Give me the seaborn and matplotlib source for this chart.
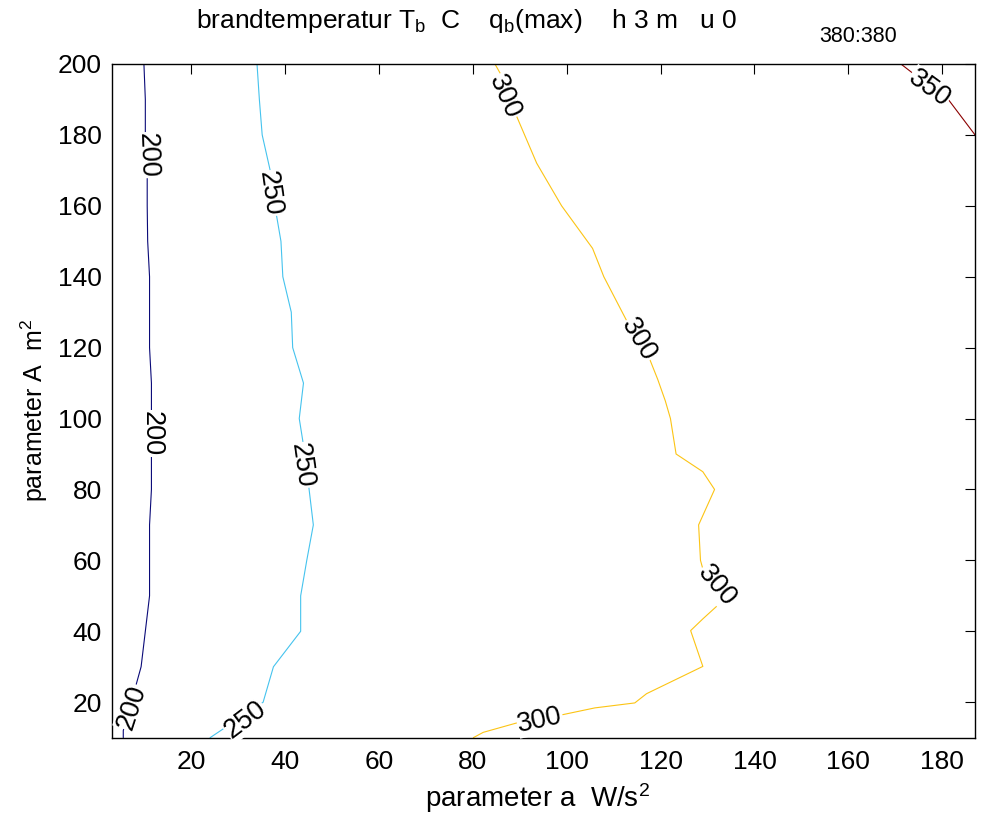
import numpy as np
import pandas as pd
import matplotlib
matplotlib.use("Agg")
import matplotlib.pyplot as plt
import seaborn as sns

# contour lines (parameter a, parameter A)
lvl200_a = [9.9, 10.2, 10.2, 10.6, 10.6, 10.7, 11.1, 11.1, 11.1, 11.5, 11.5,
            11.5, 11.5, 11.1, 11.1, 11.1, 10.2, 9.3, 7.2, 5.5, 5.5]
lvl200_A = [200, 190, 180, 170, 160, 150, 140, 130, 120, 110, 100,
            90, 80, 70, 60, 50, 40, 30, 20, 12, 10]

lvl250_a = [34.0, 34.5, 35.1, 36.8, 37.8, 39.1, 39.5, 41.3, 41.6, 43.9,
            43.0, 44.2, 45.1, 46.0, 44.6, 43.3, 43.3, 37.5, 35.3, 24.0]
lvl250_A = [200, 190, 180, 170, 160, 150, 140, 130, 120, 110,
            100, 90, 80, 70, 60, 50, 40, 30, 20, 10]

lvl300_a = [84.7, 86.4, 89.4, 93.6, 98.9, 105.5, 107.9, 113.0, 117.3, 119.4,
            121.0, 122.1, 123.3, 129.0, 131.5, 128.1, 128.5, 129.0, 132.9, 129.0,
            126.4, 129.0, 117.0, 114.5, 106.0, 98.1, 90.0, 82.2, 80.1]
lvl300_A = [200, 196, 185, 172, 160, 148, 140, 127, 118, 111,
            105, 100, 90, 85, 80, 70, 60, 57.6, 48.2, 43.5,
            40.2, 30.1, 22.4, 19.8, 18.4, 16.2, 14.4, 11.5, 10]

lvl350_a = [171.2, 174.7, 181.3, 187.0]
lvl350_A = [200, 196.4, 190, 180]

levels = [200, 250, 300, 350]
level_colors = {200: "#0a0a78", 250: "#45c3ee", 300: "#fcc414", 350: "#8b0000"}

# inline labels: (level, a, A, rotation)
label_level = [200, 200, 200, 250, 250, 250, 300, 300, 300, 300, 350]
label_a = [10.6, 11.6, 7.4, 36.8, 43.6, 31.5, 86.8, 115.2, 132.0, 94.3, 177.2]
label_A = [174.3, 95.8, 18.5, 163.5, 86.8, 15.1, 190.8, 122.1, 52.9, 14.8, 193.1]
label_rot = [-88, -90, 72, -82, -82, 37, -66, -59, -50, 12, -36]

x_ticks = list(range(20, 181, 20))
y_ticks = list(range(20, 201, 20))

frames = []
for lv, xs, ys in [(200, lvl200_a, lvl200_A), (250, lvl250_a, lvl250_A),
                   (300, lvl300_a, lvl300_A), (350, lvl350_a, lvl350_A)]:
    frames.append(pd.DataFrame({"a": xs, "A": ys, "level": lv}))
df = pd.concat(frames, ignore_index=True)

sns.set_style("white")
plt.rcParams["font.family"] = ["Liberation Sans", "DejaVu Sans"]
plt.rcParams["mathtext.fontset"] = "custom"
plt.rcParams["mathtext.rm"] = "Liberation Sans"
plt.rcParams["text.color"] = "black"

fig = plt.figure(figsize=(9.81, 8.18), dpi=100)
ax = fig.add_axes([0.1137, 0.0982, 0.8802, 0.8236])

sns.lineplot(data=df, x="a", y="A", hue="level", palette=level_colors,
             sort=False, estimator=None, units="level", linewidth=0.8,
             legend=False, ax=ax)

for lv, xa, ya, r in zip(label_level, label_a, label_A, label_rot):
    ax.text(xa, ya, str(lv), rotation=r, rotation_mode="anchor",
            ha="center", va="center", fontsize=19.5, zorder=5, color="black",
            bbox=dict(fc="white", ec="none", pad=0.3))

ax.set_xlim(3, 187)
ax.set_ylim(10, 200)
ax.set_xticks(x_ticks)
ax.set_yticks(y_ticks)
ax.set_xlabel("")
ax.set_ylabel("")
ax.tick_params(direction="in", length=7, width=0.8, top=True, right=True,
               labelsize=19, colors="black", pad=7)
ax.tick_params(axis="x", pad=9)
for s in ax.spines.values():
    s.set_visible(True)
    s.set_color("black")
    s.set_linewidth(1.0)

fig.text(466 / 981, 1 - 21 / 818,
         "brandtemperatur $\\mathregular{T_b}$  C    $\\mathregular{q_b}$(max)    h 3 m   u 0",
         ha="center", va="center", fontsize=19)
fig.text(858 / 981, 1 - 36 / 818, "380:380", ha="center", va="center", fontsize=15.5)
fig.text(537 / 981, 1 - 798 / 818, "parameter a  W/s$\\mathregular{^2}$",
         ha="center", va="center", fontsize=20)
fig.text(34 / 981, 1 - 410 / 818, "parameter A  m$\\mathregular{^2}$",
         ha="center", va="center", rotation=90, fontsize=18)

fig.savefig("out.png", dpi=100, facecolor="white")
